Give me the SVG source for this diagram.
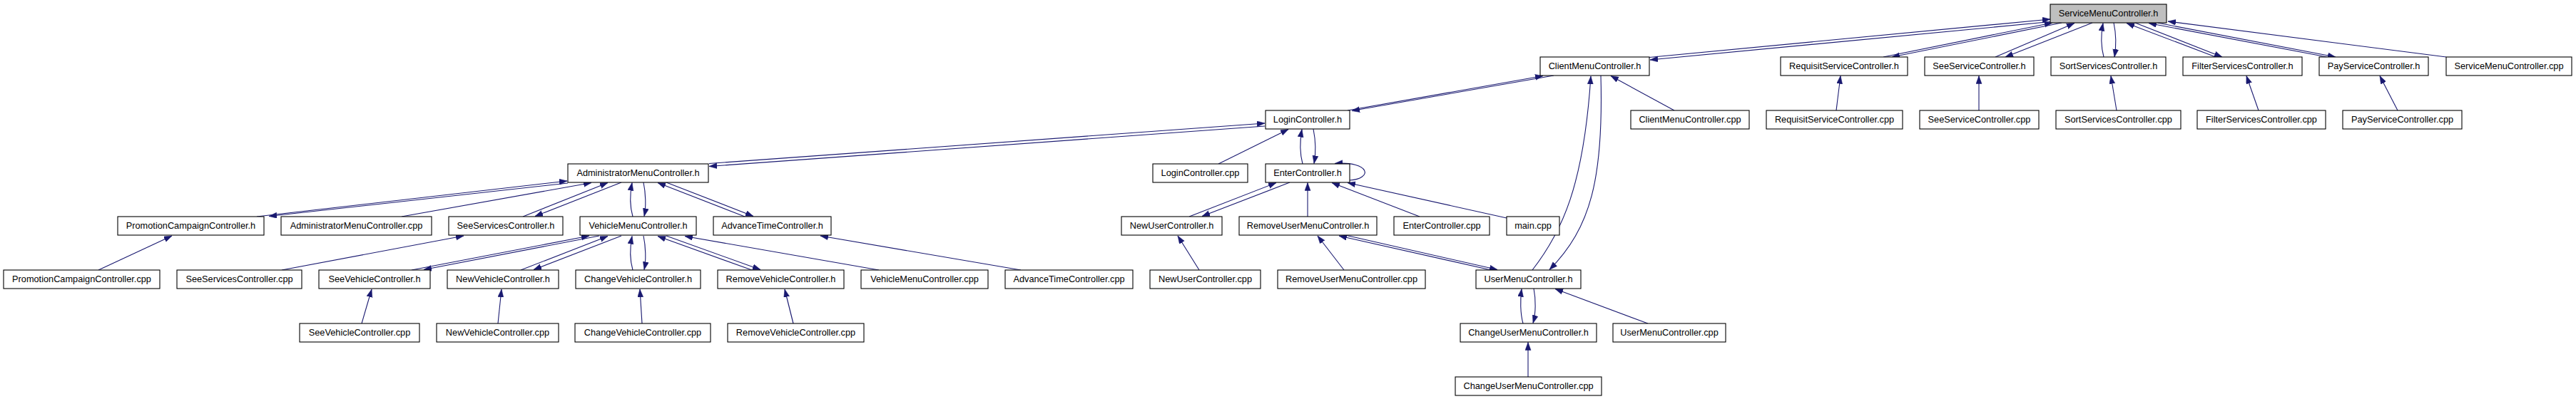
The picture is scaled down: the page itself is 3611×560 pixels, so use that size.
<svg xmlns="http://www.w3.org/2000/svg" width="3611" height="560" viewBox="0 0 3611 560">
<style>
.n rect{fill:#fff;stroke:#000;stroke-width:1.1}
.root rect{fill:#bfbfbf}
.n text{font-family:"Liberation Sans",Arial,sans-serif;font-size:12.75px;text-anchor:middle;fill:#000}
#edges path{fill:none;stroke:#191970;stroke-width:1.1;marker-end:url(#a)}
</style>
<defs>
<marker id="a" markerUnits="userSpaceOnUse" markerWidth="12" markerHeight="9" refX="11" refY="4" orient="auto">
<path d="M0,0 L11,4 L0,8 z" fill="#191970" stroke="#191970" stroke-width="0.5"/>
</marker>
</defs>
<rect width="3611" height="560" fill="#fff"/>
<g id="edges">
<path d="M2312,80.5 L2874,27"/>
<path d="M2874,30.5 L2313,84"/>
<path d="M2640,80 L2877,32"/>
<path d="M2890,32 L2652,80"/>
<path d="M2797,80 L2908,32.5"/>
<path d="M2933,32 L2811,80"/>
<path d="M2949,80 C2945,65 2945,48 2948,32.5"/>
<path d="M2963,32 C2966,46 2967,62 2964,80"/>
<path d="M3106,80 L2981,32.5"/>
<path d="M2993,32 L3115,80"/>
<path d="M3262,80 L3012,32.5"/>
<path d="M3024,32 L3274,80"/>
<path d="M3429,80 L3039,30"/>
<path d="M2347,155 L2258,106.5"/>
<path d="M2574,155 L2580,106.5"/>
<path d="M2774,155 L2774,106.5"/>
<path d="M2967,155 L2959,106.5"/>
<path d="M3166,155 L3149,106.5"/>
<path d="M3361,155 L3336,106.5"/>
<path d="M1889,155 L2163,106.5"/>
<path d="M2178,106 L1895,155.5"/>
<path d="M994,229.5 L1773,173"/>
<path d="M1773,177 L994,233.5"/>
<path d="M1708,230 L1806,181.5"/>
<path d="M1826,230 C1822,215 1822,198 1825,181.5"/>
<path d="M1841,181 C1844,196 1845,213 1842,229.5"/>
<path d="M1892,253 C1924,251 1922,226 1871,229.5"/>
<path d="M1667,304 L1789,256.5"/>
<path d="M1808,256 L1685,303.5"/>
<path d="M1833,304 L1833,256.5"/>
<path d="M1990,304 L1867,256.5"/>
<path d="M2112,306 L1889,256.5"/>
<path d="M2090,379 L1877,331"/>
<path d="M1888,330.5 L2099,378.5"/>
<path d="M1884,379 L1847,331"/>
<path d="M1681,379 L1651,331"/>
<path d="M2148,379 C2190,325 2220,260 2230,107"/>
<path d="M2244,106 C2248,250 2230,320 2172,378.5"/>
<path d="M2135,454 C2131,440 2131,420 2133,405.5"/>
<path d="M2150,405 C2153,420 2153,440 2149,453.5"/>
<path d="M2310,454 L2180,405.5"/>
<path d="M2142,529 L2142,480.5"/>
<path d="M360,304 L795,254"/>
<path d="M796,257 L377,303.5"/>
<path d="M563,304 L829,256.5"/>
<path d="M733,304 L852,256.5"/>
<path d="M871,256 L750,303.5"/>
<path d="M887,304 C883,290 883,272 886,256.5"/>
<path d="M902,256 C905,270 906,290 903,303.5"/>
<path d="M1044,304 L922,256.5"/>
<path d="M934,256 L1056,303.5"/>
<path d="M395,379 L650,331"/>
<path d="M1431,379 L1150,331"/>
<path d="M138,379 L241,331"/>
<path d="M577,379 L826,331"/>
<path d="M840,331 L594,378.5"/>
<path d="M730,379 L852,331.5"/>
<path d="M871,331 L748,378.5"/>
<path d="M887,379 C883,365 883,347 886,331.5"/>
<path d="M902,331 C905,345 906,365 903,378.5"/>
<path d="M1054,379 L922,331.5"/>
<path d="M934,331 L1066,378.5"/>
<path d="M1232,379 L960,331.5"/>
<path d="M507,454 L521,406"/>
<path d="M698,454 L703,406"/>
<path d="M900,454 L897,406"/>
<path d="M1112,454 L1100,406"/>
</g>
<g id="n_SM" class="n root"><rect x="2874" y="6" width="163" height="26"/><text x="2955.5" y="23.3">ServiceMenuController.h</text></g>
<g id="n_CM" class="n"><rect x="2159" y="80" width="153" height="26"/><text x="2235.5" y="97.3">ClientMenuController.h</text></g>
<g id="n_RS" class="n"><rect x="2496" y="80" width="178" height="26"/><text x="2585" y="97.3">RequisitServiceController.h</text></g>
<g id="n_SS" class="n"><rect x="2698" y="80" width="153" height="26"/><text x="2774.5" y="97.3">SeeServiceController.h</text></g>
<g id="n_SO" class="n"><rect x="2875" y="80" width="161" height="26"/><text x="2955.5" y="97.3">SortServicesController.h</text></g>
<g id="n_FS" class="n"><rect x="3060" y="80" width="167" height="26"/><text x="3143.5" y="97.3">FilterServicesController.h</text></g>
<g id="n_PS" class="n"><rect x="3251" y="80" width="153" height="26"/><text x="3327.5" y="97.3">PayServiceController.h</text></g>
<g id="n_SMC" class="n"><rect x="3429" y="80" width="176" height="26"/><text x="3517" y="97.3">ServiceMenuController.cpp</text></g>
<g id="n_LC" class="n"><rect x="1774" y="155" width="118" height="26"/><text x="1833" y="172.3">LoginController.h</text></g>
<g id="n_CMC" class="n"><rect x="2286" y="155" width="166" height="26"/><text x="2369" y="172.3">ClientMenuController.cpp</text></g>
<g id="n_RSC" class="n"><rect x="2476" y="155" width="191" height="26"/><text x="2571.5" y="172.3">RequisitServiceController.cpp</text></g>
<g id="n_SSC" class="n"><rect x="2691" y="155" width="167" height="26"/><text x="2774.5" y="172.3">SeeServiceController.cpp</text></g>
<g id="n_SOC" class="n"><rect x="2882" y="155" width="175" height="26"/><text x="2969.5" y="172.3">SortServicesController.cpp</text></g>
<g id="n_FSC" class="n"><rect x="3080" y="155" width="180" height="26"/><text x="3170" y="172.3">FilterServicesController.cpp</text></g>
<g id="n_PSC" class="n"><rect x="3284" y="155" width="167" height="26"/><text x="3367.5" y="172.3">PayServiceController.cpp</text></g>
<g id="n_AM" class="n"><rect x="796" y="230" width="197" height="26"/><text x="894.5" y="247.3">AdministratorMenuController.h</text></g>
<g id="n_LCC" class="n"><rect x="1616" y="230" width="133" height="26"/><text x="1682.5" y="247.3">LoginController.cpp</text></g>
<g id="n_EC" class="n"><rect x="1774" y="230" width="118" height="26"/><text x="1833" y="247.3">EnterController.h</text></g>
<g id="n_PC" class="n"><rect x="165" y="304" width="205" height="26"/><text x="267.5" y="321.3">PromotionCampaignController.h</text></g>
<g id="n_AMC" class="n"><rect x="394" y="304" width="211" height="26"/><text x="499.5" y="321.3">AdministratorMenuController.cpp</text></g>
<g id="n_SVS" class="n"><rect x="629" y="304" width="160" height="26"/><text x="709" y="321.3">SeeServicesController.h</text></g>
<g id="n_VM" class="n"><rect x="813" y="304" width="163" height="26"/><text x="894.5" y="321.3">VehicleMenuController.h</text></g>
<g id="n_AT" class="n"><rect x="1000" y="304" width="165" height="26"/><text x="1082.5" y="321.3">AdvanceTimeController.h</text></g>
<g id="n_NU" class="n"><rect x="1572" y="304" width="141" height="26"/><text x="1642.5" y="321.3">NewUserController.h</text></g>
<g id="n_RU" class="n"><rect x="1737" y="304" width="193" height="26"/><text x="1833.5" y="321.3">RemoveUserMenuController.h</text></g>
<g id="n_ECC" class="n"><rect x="1954" y="304" width="134" height="26"/><text x="2021" y="321.3">EnterController.cpp</text></g>
<g id="n_MAIN" class="n"><rect x="2112" y="304" width="74" height="26"/><text x="2149" y="321.3">main.cpp</text></g>
<g id="n_PCC" class="n"><rect x="5" y="379" width="219" height="26"/><text x="114.5" y="396.3">PromotionCampaignController.cpp</text></g>
<g id="n_SVSC" class="n"><rect x="248" y="379" width="175" height="26"/><text x="335.5" y="396.3">SeeServicesController.cpp</text></g>
<g id="n_SV" class="n"><rect x="447" y="379" width="156" height="26"/><text x="525" y="396.3">SeeVehicleController.h</text></g>
<g id="n_NV" class="n"><rect x="627" y="379" width="156" height="26"/><text x="705" y="396.3">NewVehicleController.h</text></g>
<g id="n_CV" class="n"><rect x="807" y="379" width="175" height="26"/><text x="894.5" y="396.3">ChangeVehicleController.h</text></g>
<g id="n_RV" class="n"><rect x="1006" y="379" width="177" height="26"/><text x="1094.5" y="396.3">RemoveVehicleController.h</text></g>
<g id="n_VMC" class="n"><rect x="1207" y="379" width="178" height="26"/><text x="1296" y="396.3">VehicleMenuController.cpp</text></g>
<g id="n_ATC" class="n"><rect x="1409" y="379" width="179" height="26"/><text x="1498.5" y="396.3">AdvanceTimeController.cpp</text></g>
<g id="n_NUC" class="n"><rect x="1612" y="379" width="155" height="26"/><text x="1689.5" y="396.3">NewUserController.cpp</text></g>
<g id="n_RUC" class="n"><rect x="1791" y="379" width="207" height="26"/><text x="1894.5" y="396.3">RemoveUserMenuController.cpp</text></g>
<g id="n_UM" class="n"><rect x="2069" y="379" width="147" height="26"/><text x="2142.5" y="396.3">UserMenuController.h</text></g>
<g id="n_SVC" class="n"><rect x="420" y="454" width="168" height="26"/><text x="504" y="471.3">SeeVehicleController.cpp</text></g>
<g id="n_NVC" class="n"><rect x="612" y="454" width="171" height="26"/><text x="697.5" y="471.3">NewVehicleController.cpp</text></g>
<g id="n_CVC" class="n"><rect x="806" y="454" width="190" height="26"/><text x="901" y="471.3">ChangeVehicleController.cpp</text></g>
<g id="n_RVC" class="n"><rect x="1020" y="454" width="191" height="26"/><text x="1115.5" y="471.3">RemoveVehicleController.cpp</text></g>
<g id="n_CUM" class="n"><rect x="2047" y="454" width="191" height="26"/><text x="2142.5" y="471.3">ChangeUserMenuController.h</text></g>
<g id="n_UMC" class="n"><rect x="2261" y="454" width="158" height="26"/><text x="2340" y="471.3">UserMenuController.cpp</text></g>
<g id="n_CUMC" class="n"><rect x="2040" y="529" width="205" height="26"/><text x="2142.5" y="546.3">ChangeUserMenuController.cpp</text></g>
</svg>
